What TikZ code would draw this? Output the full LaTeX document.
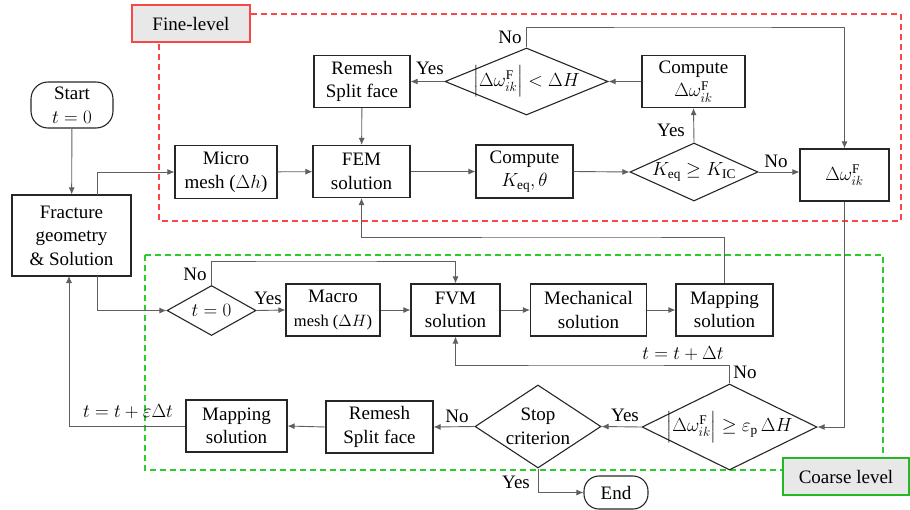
\documentclass[tikz,border=0pt]{standalone}
\usepackage{fix-cm}
\usepackage{amsmath}
\usepackage{fontspec}
\setmainfont{Liberation Serif}
\usetikzlibrary{shapes.geometric,arrows.meta}
\definecolor{finered}{RGB}{250,70,70}
\definecolor{coarsegreen}{RGB}{40,205,40}
\definecolor{lblgray}{RGB}{232,232,232}
\definecolor{linegray}{RGB}{95,95,95}
\newcommand\myfs{\fontsize{19}{23.5}\selectfont}
\newcommand\mysmallfs{\fontsize{16.5}{23}\selectfont}
\newcommand\myabs[1]{\left|\rule[-7pt]{0pt}{23pt}#1\right|}
\begin{document}
\begin{tikzpicture}[x=1pt,y=-1pt,
  box/.style={draw=black!85,line width=1.1pt,align=center,inner sep=0pt,font=\myfs},
  dia/.style={draw=black!85,line width=1.1pt,diamond,inner sep=0pt},
  arr/.style={draw=linegray,line width=0.9pt,-{Latex[length=7pt,width=6pt]}},
  lbl/.style={font=\myfs,inner sep=0pt},
  levelbox/.style={line width=1.4pt,fill=lblgray,font=\myfs,inner sep=0pt},
]
\useasboundingbox (0,0) rectangle (910,509);

% level frames
\draw[finered,line width=1.8pt,dash pattern=on 6pt off 4pt] (159,14) rectangle (901,221);
\draw[coarsegreen,line width=1.8pt,dash pattern=on 6pt off 4pt] (145,255) rectangle (883,470);
\node[levelbox,draw=finered,minimum width=118,minimum height=37] (fine) at (191,23.5) {Fine-level};
\node[levelbox,draw=coarsegreen!90!black,minimum width=126,minimum height=37] (coarse) at (846,476.5) {Coarse level};

% nodes
\node[box,rounded corners=17pt,minimum width=82,minimum height=46] (start) at (72,105) {Start\\$t=0$};
\node[box,minimum width=119,minimum height=81] (frac) at (71.5,235.5) {Fracture\\geometry\\\& Solution};
\node[box,minimum width=102,minimum height=53] (micro) at (226,172) {Micro\\mesh ($\Delta h$)};
\node[box,minimum width=97,minimum height=52] (fem) at (361.5,171.5) {FEM\\solution};
\node[box,minimum width=96,minimum height=52] (rtop) at (362,81.5) {Remesh\\Split face};
\node[box,minimum width=103,minimum height=52] (cdw) at (693.5,81.5) {Compute\\$\Delta\omega_{ik}^{\mathrm{F}}$};
\node[box,minimum width=97,minimum height=53] (ck) at (524.5,171.5) {Compute\\$K_{\mathrm{eq}},\theta$};
\node[box,minimum width=89,minimum height=52] (dw) at (844.5,175) {$\Delta\omega_{ik}^{\mathrm{F}}$};

\node[dia,minimum width=163,minimum height=67] (td) at (526.5,81.5) {};
\node[lbl] at (td) {$\myabs{\Delta\omega_{ik}^{\mathrm{F}}}<\Delta H$};
\node[dia,minimum width=128,minimum height=58] (kd) at (694,172) {};
\node[lbl] at (kd) {$K_{\mathrm{eq}}\geq K_{\mathrm{IC}}$};

\node[dia,minimum width=89,minimum height=50] (t0) at (211.5,310.5) {};
\node[lbl] at (t0) {$t=0$};
\node[box,minimum width=94,minimum height=52] (macro) at (333,310) {Macro\\{\mysmallfs mesh ($\Delta H$)}};
\node[box,minimum width=89,minimum height=52] (fvm) at (455.5,310) {FVM\\solution};
\node[box,minimum width=116,minimum height=52] (mech) at (588.5,310) {Mechanical\\solution};
\node[box,minimum width=97,minimum height=52] (map) at (724.5,310) {Mapping\\solution};

\node[dia,minimum width=175,minimum height=86] (bd) at (729.5,427) {};
\node[lbl] at (bd) {$\myabs{\Delta\omega_{ik}^{\mathrm{F}}}\geq\varepsilon_{\mathrm{p}}\,\Delta H$};
\node[dia,minimum width=126,minimum height=83] (stop) at (538,426.5) {};
\node[lbl,align=center] at (stop) {Stop\\criterion};
\node[box,minimum width=107,minimum height=52] (rbot) at (379.5,427) {Remesh\\Split face};
\node[box,minimum width=101,minimum height=52] (mbot) at (236.5,426) {Mapping\\solution};
\node[box,rounded corners=15pt,minimum width=64,minimum height=33] (end) at (616,492.5) {End};

% helper coordinates
\coordinate (ftop) at (97,195);
\coordinate (fbot) at (97,276);
\coordinate (fin) at (69,276);
\coordinate (c27) at (700,27);
\coordinate (c237) at (600,237);
\coordinate (c261) at (300,261);
\coordinate (c365) at (600,365);

% connectors
\draw[arr] (start) -- (frac);
\draw[arr] (ftop) |- (micro.west);
\draw[arr] (micro) -- (fem);
\draw[arr] (fem) -- (ck);
\draw[arr] (ck.east) -- (kd.west);
\draw[arr] (kd.east) -- (kd.east -| dw.west);
\draw[arr] (kd.north) -- (cdw.south);
\draw[arr] (cdw.west) -- (td.east);
\draw[arr] (td.west) -- (rtop.east);
\draw[arr] (rtop) -- (fem);
\draw[arr] (td.north) |- (c27) -| (dw.north);
\draw[arr] (dw.south) |- (bd.east);
\draw[arr] (map.north) |- (c237) -| (fem.south);
\draw[arr] (fbot) |- (t0.west);
\draw[arr] (t0.east) -- (macro.west);
\draw[arr] (t0.north) |- (c261) -| (fvm.north);
\draw[arr] (macro) -- (fvm);
\draw[arr] (fvm) -- (mech);
\draw[arr] (mech) -- (map);
\draw[arr] (bd.north) |- (c365) -| (fvm.south);
\draw[arr] (bd.west) -- (stop.east);
\draw[arr] (stop.west) -- (rbot.east);
\draw[arr] (rbot.west) -- (mbot.east);
\draw[arr] (mbot.west) -| (fin);
\draw[arr] (stop.south) |- (end.west);

% labels
\node[lbl] at (430,68) {Yes};
\node[lbl] at (510,37) {No};
\node[lbl] at (671,130) {Yes};
\node[lbl] at (776,161) {No};
\node[lbl] at (195,274) {No};
\node[lbl] at (268,298) {Yes};
\node[lbl] at (683,354) {$t=t+\Delta t$};
\node[lbl] at (745,372) {No};
\node[lbl] at (625,415) {Yes};
\node[lbl] at (457,416) {No};
\node[lbl] at (516,482) {Yes};
\node[lbl] at (128,412) {$t=t+\varepsilon\Delta t$};
\end{tikzpicture}
\end{document}
